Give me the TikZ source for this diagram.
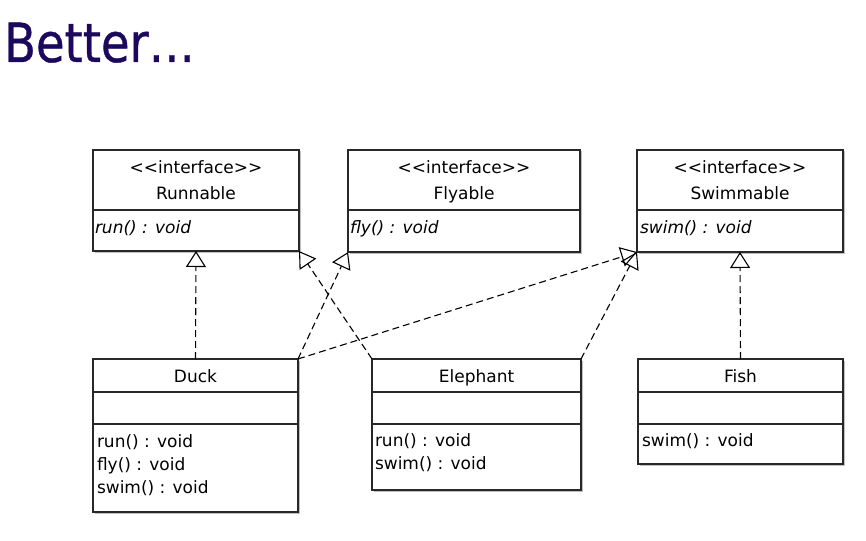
\documentclass[tikz,border=0pt]{standalone}
\usepackage{fontspec}
\setmainfont{DejaVu Sans}[Ligatures=TeXOff]
\newfontfamily\titlefont{DejaVu Sans}[FakeBold=0.7]
\usetikzlibrary{arrows.meta,shadows}
\definecolor{titleblue}{RGB}{28,8,92}
\definecolor{boxline}{RGB}{40,40,40}
\begin{document}
\begin{tikzpicture}[x=1pt,y=-1pt,
  umlbox/.style={draw=boxline, line width=1.2pt, fill=white, inner sep=0pt, outer sep=0pt,
    anchor=north west,
    drop shadow={shadow xshift=1.5pt, shadow yshift=-1.5pt, opacity=0.25, fill=black}},
  divider/.style={draw=boxline, line width=1.2pt},
  txt/.style={inner sep=0pt, outer sep=0pt, font=\fontsize{17}{20}\selectfont},
  ctxt/.style={txt, anchor=base},
  ltxt/.style={txt, anchor=base west},
  itxt/.style={txt, anchor=base west, font=\fontsize{17}{20}\selectfont\itshape},
  impl/.style={draw=black, line width=1.1pt, dash pattern=on 7pt off 4pt,
    -{Triangle[open, length=16pt, width=20pt, line width=1.1pt]}}
]
\useasboundingbox (0,0) rectangle (866,540);

% title
\node[anchor=base west, inner sep=0pt, text=titleblue, xscale=0.86,
  font=\titlefont\fontsize{54}{60}\selectfont] (title) at (4,62) {Better…};

% interface boxes
\node[umlbox, minimum width=206pt, minimum height=101pt] (run) at (93,150) {};
\node[umlbox, minimum width=232pt, minimum height=102pt] (fly) at (348,150) {};
\node[umlbox, minimum width=206pt, minimum height=102pt] (swim) at (637,150) {};

\draw[divider] ([yshift=-60pt]run.north west) -- ([yshift=-60pt]run.north east);
\draw[divider] ([yshift=-60pt]fly.north west) -- ([yshift=-60pt]fly.north east);
\draw[divider] ([yshift=-60pt]swim.north west) -- ([yshift=-60pt]swim.north east);

\node[ctxt] (runS) at (196,174) {<<interface>>};
\node[ctxt] (runN) at (196,199) {Runnable};
\node[itxt] (runM) at (95,233) {run() : void};

\node[ctxt] (flyS) at (464,174) {<<interface>>};
\node[ctxt] (flyN) at (464,199) {Flyable};
\node[itxt] (flyM) at (350,233) {fly() : void};

\node[ctxt] (swimS) at (740,174) {<<interface>>};
\node[ctxt] (swimN) at (740,199) {Swimmable};
\node[itxt] (swimM) at (640,233) {swim() : void};

% class boxes
\node[umlbox, minimum width=205pt, minimum height=153pt] (duck) at (93,359) {};
\node[umlbox, minimum width=209pt, minimum height=131pt] (eleph) at (372,359) {};
\node[umlbox, minimum width=205pt, minimum height=105pt] (fish) at (638,359) {};

\foreach \b in {duck,eleph,fish}{
  \draw[divider] ([yshift=-33pt]\b.north west) -- ([yshift=-33pt]\b.north east);
  \draw[divider] ([yshift=-65pt]\b.north west) -- ([yshift=-65pt]\b.north east);
}

\node[ctxt] (duckN) at (195.5,382) {Duck};
\node[ltxt] (duckM1) at (97,447) {run() : void};
\node[ltxt] (duckM2) at (97,470) {fly() : void};
\node[ltxt] (duckM3) at (97,493) {swim() : void};

\node[ctxt] (elephN) at (476.5,382) {Elephant};
\node[ltxt] (elephM1) at (375,446) {run() : void};
\node[ltxt] (elephM2) at (375,469) {swim() : void};

\node[ctxt] (fishN) at (740.5,382) {Fish};
\node[ltxt] (fishM1) at (642,446) {swim() : void};

% realizations
\draw[impl] (duck.north) -- (run.south);
\draw[impl] (duck.north east) -- (fly.south west);
\draw[impl] (duck.north east) -- (swim.south west);
\draw[impl] (eleph.north west) -- (run.south east);
\draw[impl] (eleph.north east) -- (swim.south west);
\draw[impl] (fish.north) -- (swim.south);
\end{tikzpicture}
\end{document}
